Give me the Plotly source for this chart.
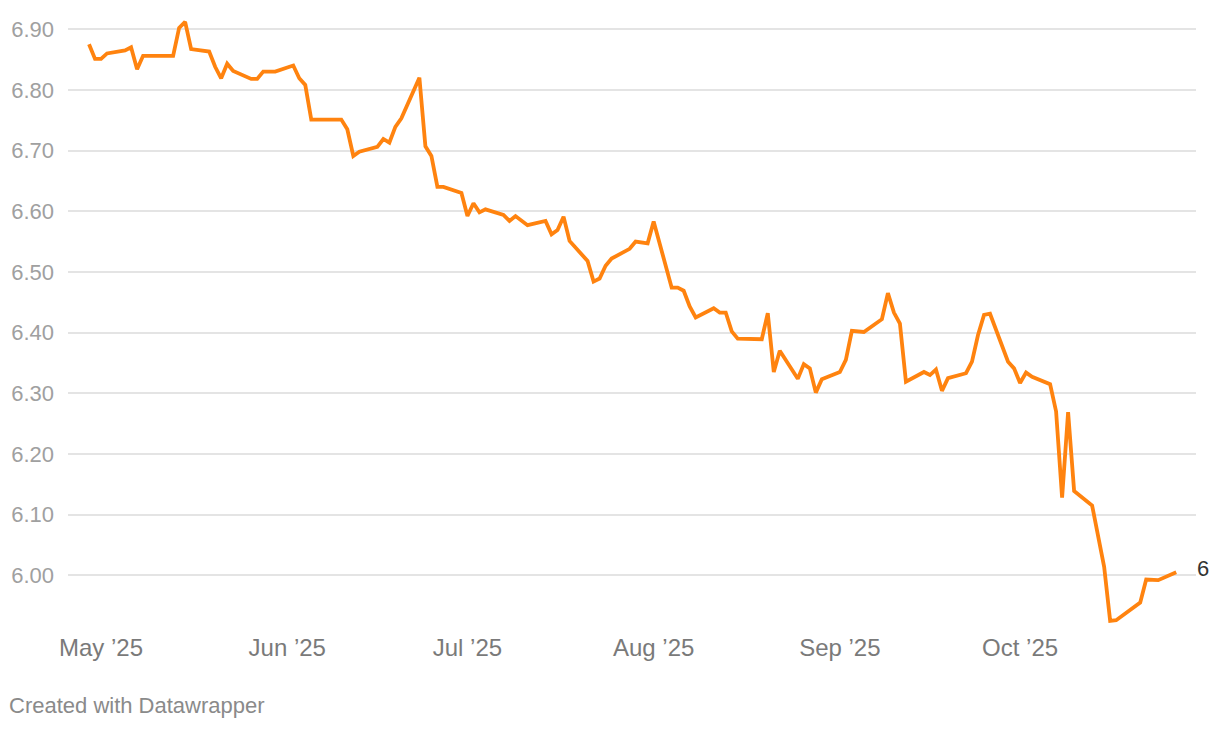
import plotly.graph_objects as go

dates = [
    "2025-04-29", "2025-04-30", "2025-05-01", "2025-05-02", "2025-05-05", "2025-05-06",
    "2025-05-07", "2025-05-08", "2025-05-13", "2025-05-14", "2025-05-15", "2025-05-16",
    "2025-05-19", "2025-05-20", "2025-05-21", "2025-05-22", "2025-05-23", "2025-05-26",
    "2025-05-27", "2025-05-28", "2025-05-30", "2025-06-02", "2025-06-03", "2025-06-04",
    "2025-06-05", "2025-06-10", "2025-06-11", "2025-06-12", "2025-06-13", "2025-06-16",
    "2025-06-17", "2025-06-18", "2025-06-19", "2025-06-20", "2025-06-23", "2025-06-24",
    "2025-06-25", "2025-06-26", "2025-06-27", "2025-06-30", "2025-07-01", "2025-07-02",
    "2025-07-03", "2025-07-04", "2025-07-07", "2025-07-08", "2025-07-09", "2025-07-11",
    "2025-07-14", "2025-07-15", "2025-07-16", "2025-07-17", "2025-07-18", "2025-07-21",
    "2025-07-22", "2025-07-23", "2025-07-24", "2025-07-25", "2025-07-28", "2025-07-29",
    "2025-07-31", "2025-08-01", "2025-08-04", "2025-08-05", "2025-08-06", "2025-08-07",
    "2025-08-08", "2025-08-11", "2025-08-12", "2025-08-13", "2025-08-14", "2025-08-15",
    "2025-08-19", "2025-08-20", "2025-08-21", "2025-08-22", "2025-08-25", "2025-08-26",
    "2025-08-27", "2025-08-28", "2025-08-29", "2025-09-01", "2025-09-02", "2025-09-03",
    "2025-09-05", "2025-09-08", "2025-09-09", "2025-09-10", "2025-09-11", "2025-09-12",
    "2025-09-15", "2025-09-16", "2025-09-17", "2025-09-18", "2025-09-19", "2025-09-22",
    "2025-09-23", "2025-09-24", "2025-09-25", "2025-09-26", "2025-09-29", "2025-09-30",
    "2025-10-01", "2025-10-02", "2025-10-03", "2025-10-06", "2025-10-07", "2025-10-08",
    "2025-10-09", "2025-10-10", "2025-10-13", "2025-10-14", "2025-10-15", "2025-10-16",
    "2025-10-17", "2025-10-21", "2025-10-22", "2025-10-24", "2025-10-27",
]

values = [
    6.875, 6.851, 6.851, 6.860, 6.865, 6.870,
    6.834, 6.856, 6.856, 6.902, 6.912, 6.867,
    6.863, 6.838, 6.819, 6.843, 6.831, 6.818,
    6.818, 6.830, 6.830, 6.840, 6.819, 6.808,
    6.751, 6.751, 6.735, 6.691, 6.698, 6.706,
    6.719, 6.713, 6.739, 6.753, 6.820, 6.707,
    6.691, 6.640, 6.640, 6.630, 6.592, 6.613,
    6.598, 6.603, 6.594, 6.584, 6.592, 6.577,
    6.584, 6.562, 6.569, 6.591, 6.551, 6.518,
    6.484, 6.489, 6.510, 6.522, 6.538, 6.550,
    6.547, 6.583, 6.474, 6.474, 6.469, 6.443,
    6.425, 6.440, 6.433, 6.433, 6.402, 6.390,
    6.389, 6.432, 6.335, 6.370, 6.324, 6.348,
    6.341, 6.301, 6.323, 6.335, 6.355, 6.403,
    6.401, 6.422, 6.465, 6.433, 6.415, 6.319,
    6.335, 6.330, 6.339, 6.304, 6.325, 6.333,
    6.352, 6.396, 6.429, 6.431, 6.352, 6.341,
    6.317, 6.334, 6.327, 6.315, 6.270, 6.128,
    6.269, 6.139, 6.115, 6.061, 6.014, 5.925,
    5.926, 5.955, 5.993, 5.992, 6.005,
]

month_ticks = ["2025-05-01", "2025-06-01", "2025-07-01", "2025-08-01", "2025-09-01", "2025-10-01"]
month_labels = ["May \u201925", "Jun \u201925", "Jul \u201925", "Aug \u201925", "Sep \u201925", "Oct \u201925"]
y_ticks = [6.0, 6.1, 6.2, 6.3, 6.4, 6.5, 6.6, 6.7, 6.8, 6.9]
y_labels = ["6.00", "6.10", "6.20", "6.30", "6.40", "6.50", "6.60", "6.70", "6.80", "6.90"]
end_label = "6"

FONT = "Liberation Sans, Arial, Helvetica, sans-serif"
LINE = "#ff830f"

fig = go.Figure()
fig.add_trace(go.Scatter(
    x=dates, y=values, mode="lines",
    line=dict(color=LINE, width=3.8),
    hoverinfo="x+y",
))

fig.add_annotation(
    x=dates[-1], y=values[-1], text=end_label, showarrow=False,
    xanchor="left", yanchor="middle", xshift=19, yshift=4,
    font=dict(family=FONT, size=22, color="#333333"),
)

fig.add_annotation(
    xref="paper", yref="paper", x=-0.054, y=-0.113,
    text="Created with Datawrapper", showarrow=False,
    xanchor="left", yanchor="middle",
    font=dict(family=FONT, size=22, color="#8a8a8a"),
)

fig.update_layout(
    width=1220, height=730,
    margin=dict(l=60, r=32, t=9, b=102, autoexpand=False),
    paper_bgcolor="white", plot_bgcolor="white",
    showlegend=False,
    xaxis=dict(
        type="date",
        range=["2025-04-25 12:00", "2025-10-30 07:00"],
        tickvals=month_ticks, ticktext=month_labels,
        showgrid=False, zeroline=False, showline=False, ticks="",
        ticklabelstandoff=-5, automargin=False,
        tickfont=dict(family=FONT, size=24, color="#7a7a7a"),
    ),
    yaxis=dict(
        range=[5.90, 6.92],
        tickvals=y_ticks, ticktext=y_labels,
        showgrid=True, gridcolor="#e4e4e4", gridwidth=1.6,
        zeroline=False, showline=False, ticks="",
        ticklabelstandoff=13, automargin=False,
        tickfont=dict(family=FONT, size=22, color="#a0a0a0"),
    ),
)

fig.write_html("out.html")
